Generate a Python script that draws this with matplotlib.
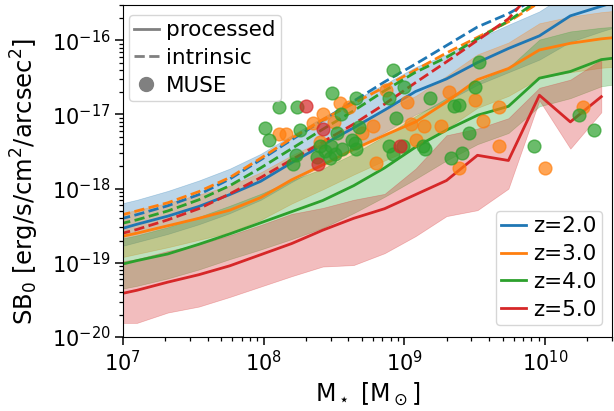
import numpy as np
import matplotlib
matplotlib.use("Agg")
import matplotlib.pyplot as plt
from matplotlib.lines import Line2D

plt.rcParams['font.size'] = 16
plt.rcParams['xtick.labelsize'] = 15
plt.rcParams['ytick.labelsize'] = 15

# stellar mass bins (log10 Msun)
logm = [6.88, 7.10, 7.32, 7.54, 7.76, 7.98, 8.20, 8.42, 8.64, 8.86,
        9.08, 9.30, 9.52, 9.74, 9.96, 10.18, 10.40, 10.62]

redshifts = ["2.0", "3.0", "4.0", "5.0"]
colors = ["C0", "C1", "C2", "C3"]

# processed median SB (log10)
proc_z2 = [-18.60, -18.48, -18.37, -18.24, -18.08, -17.90, -17.65, -17.41, -17.18, -16.94,
           -16.69, -16.52, -16.30, -16.11, -15.94, -15.67, -15.54, -15.41]
proc_z3 = [-18.69, -18.60, -18.50, -18.40, -18.29, -18.12, -17.88, -17.68, -17.47, -17.28,
           -17.10, -16.83, -16.53, -16.38, -16.13, -16.04, -15.98, -15.94]
proc_z4 = [-19.07, -18.97, -18.88, -18.75, -18.61, -18.46, -18.31, -18.16, -17.96, -17.72,
           -17.44, -17.21, -17.01, -16.89, -16.51, -16.42, -16.26, -16.21]
proc_z5 = [-19.46, -19.37, -19.26, -19.16, -19.04, -18.89, -18.74, -18.56, -18.40, -18.27,
           -18.08, -17.89, -17.55, -17.62, -16.74, -17.10, -16.76]

# intrinsic median SB (log10)
intr_z2 = [-18.46, -18.35, -18.23, -18.08, -17.87, -17.61, -17.34, -17.08, -16.82, -16.56,
           -16.32, -16.07, -15.82, -15.64, -15.41, -15.18, -14.94, -14.71]
intr_z3 = [-18.41, -18.30, -18.19, -18.04, -17.85, -17.59, -17.32, -17.07, -16.85, -16.63,
           -16.40, -16.17, -15.96, -15.75, -15.49, -15.22, -14.94, -14.67]
intr_z4 = [-18.52, -18.42, -18.30, -18.15, -17.96, -17.72, -17.46, -17.20, -16.95, -16.68,
           -16.43, -16.23, -15.98, -15.74, -15.45, -15.18, -14.90, -14.63]
intr_z5 = [-18.66, -18.55, -18.42, -18.27, -18.07, -17.85, -17.61, -17.37, -17.13, -16.86,
           -16.57, -16.29, -16.00, -15.71, -15.24, -14.77, -14.36]

# processed 16-84 percentile band (log10)
lo_z2 = [-18.83, -18.72, -18.61, -18.48, -18.33, -18.15, -17.91, -17.68, -17.46, -17.24,
         -17.00, -16.82, -16.60, -16.43, -16.26, -16.02, -15.88, -15.75]
hi_z2 = [-18.25, -18.15, -18.03, -17.89, -17.73, -17.53, -17.28, -17.04, -16.81, -16.59,
         -16.36, -16.19, -15.98, -15.79, -15.61, -15.34, -15.20, -15.07]
lo_z3 = [-18.97, -18.88, -18.79, -18.69, -18.59, -18.42, -18.20, -18.01, -17.81, -17.62,
         -17.44, -17.19, -16.91, -16.75, -16.51, -16.43, -16.37, -16.34]
hi_z3 = [-18.37, -18.29, -18.19, -18.08, -17.96, -17.78, -17.55, -17.35, -17.13, -16.94,
         -16.75, -16.48, -16.19, -16.03, -15.77, -15.68, -15.62, -15.58]
lo_z4 = [-19.39, -19.31, -19.21, -19.09, -18.95, -18.82, -18.68, -18.53, -18.33, -18.11,
         -17.87, -17.62, -17.40, -17.25, -16.89, -16.78, -16.62, -16.56]
hi_z4 = [-18.72, -18.63, -18.52, -18.38, -18.23, -18.07, -17.89, -17.73, -17.53, -17.29,
         -17.02, -16.78, -16.56, -16.37, -15.99, -15.88, -15.83, -15.80]
lo_z5 = [-19.81, -19.81, -19.67, -19.59, -19.46, -19.32, -19.18, -19.05, -19.03, -18.87,
         -18.64, -18.37, -18.29, -18.00, -16.81, -17.46, -16.97]
hi_z5 = [-19.01, -18.95, -18.84, -18.75, -18.63, -18.49, -18.34, -18.26, -18.15, -18.07,
         -17.73, -17.28, -17.19, -17.05, -16.64, -16.53, -16.26]

# MUSE galaxies (log10 M*, log10 SB0)
muse_z3_m = [8.54, 8.11, 8.16, 8.35, 8.42, 8.50, 8.61, 8.40, 8.70, 8.78, 8.80, 8.87, 9.02,
             9.05, 9.14, 9.26, 9.08, 9.32, 9.50, 9.39, 9.56, 9.67, 9.67, 10.00, 10.27]
muse_z3_sb = [-16.85, -17.26, -17.26, -17.11, -16.99, -17.10, -16.90, -17.37, -17.25, -17.15,
              -17.65, -16.67, -16.83, -17.13, -17.15, -17.16, -17.35, -16.70, -16.80, -17.72,
              -17.09, -16.90, -17.42, -17.72, -16.90]
muse_z4_m = [8.11, 8.24, 8.49, 8.66, 8.01, 8.04, 8.26, 8.55, 8.52, 8.40, 8.44, 8.48, 8.51,
             8.56, 8.38, 8.47, 8.23, 8.21, 8.65, 8.66, 8.68, 8.89, 8.92, 9.00, 8.94, 8.89,
             8.99, 8.92, 9.13, 9.15, 9.18, 9.33, 9.41, 9.35, 9.39, 9.46, 9.50, 9.53, 9.92,
             10.24, 10.35, 8.63]
muse_z4_sb = [-16.90, -16.90, -16.71, -16.78, -17.18, -17.34, -17.21, -16.99, -17.25, -17.43,
              -17.49, -17.43, -17.53, -17.46, -17.57, -17.59, -17.55, -17.67, -17.39, -17.46,
              -17.17, -16.78, -16.40, -16.63, -17.05, -17.42, -17.42, -17.53, -17.42, -17.46,
              -16.78, -17.58, -17.52, -16.89, -16.87, -17.25, -16.63, -16.29, -17.42, -17.01,
              -17.21, -17.35]
muse_z5_m = [8.30, 8.42, 8.39, 8.97]
muse_z5_sb = [-16.89, -17.20, -17.67, -17.42]

yticks = [1e-20, 1e-19, 1e-18, 1e-17, 1e-16]
xticks = [1e7, 1e8, 1e9, 1e10]

proc = [proc_z2, proc_z3, proc_z4, proc_z5]
intr = [intr_z2, intr_z3, intr_z4, intr_z5]
los = [lo_z2, lo_z3, lo_z4, lo_z5]
his = [hi_z2, hi_z3, hi_z4, hi_z5]

fig = plt.figure(figsize=(6.14, 4.11), dpi=100)
ax = fig.add_axes([0.200, 0.180, 0.797, 0.808])

m = 10**np.array(logm)
for i in range(4):
    n = len(proc[i])
    ax.fill_between(m[:n], 10**np.array(los[i]), 10**np.array(his[i]),
                    color=colors[i], alpha=0.3, lw=0.5)
for i in range(4):
    n = len(proc[i])
    ax.plot(m[:n], 10**np.array(proc[i]), color=colors[i], lw=2, label="z=" + redshifts[i])
    ax.plot(m[:n], 10**np.array(intr[i]), color=colors[i], lw=2, ls="--")

for mm, sb, c in [(muse_z3_m, muse_z3_sb, "C1"), (muse_z4_m, muse_z4_sb, "C2"),
                  (muse_z5_m, muse_z5_sb, "C3")]:
    ax.scatter(10**np.array(mm), 10**np.array(sb), s=85, color=c, alpha=0.7, zorder=3)

ax.set_xscale("log")
ax.set_yscale("log")
ax.set_yticks(yticks)
ax.set_xticks(xticks)
ax.set_xlim(1e7, 3e10)
ax.set_ylim(1e-20, 3e-16)
ax.set_xlabel(r"M$_\star$ [M$_\odot$]", fontsize=17)
ax.set_ylabel(r"SB$_0$ [erg/s/cm$^2$/arcsec$^2$]", fontsize=17.5)
ax.yaxis.set_label_coords(-0.168, 0.47)
ax.tick_params(which="major", length=5.5, width=1.1)
ax.tick_params(which="minor", length=3.2, width=0.9)

legkw = dict(fontsize=15.5, labelspacing=0.36, handlelength=1.15, handletextpad=0.35,
             borderpad=0.25, borderaxespad=0)
leg2 = ax.legend(loc="lower right", bbox_to_anchor=(0.980, 0.036), **legkw)
handles = [Line2D([], [], color="grey", lw=2),
           Line2D([], [], color="grey", lw=2, ls="--"),
           Line2D([], [], color="grey", marker="o", ls="", ms=10)]
ax.legend(handles, ["processed", "intrinsic", "MUSE"], loc="upper left",
          bbox_to_anchor=(0.012, 0.970), **legkw)
ax.add_artist(leg2)

fig.savefig("out.png", dpi=100)
